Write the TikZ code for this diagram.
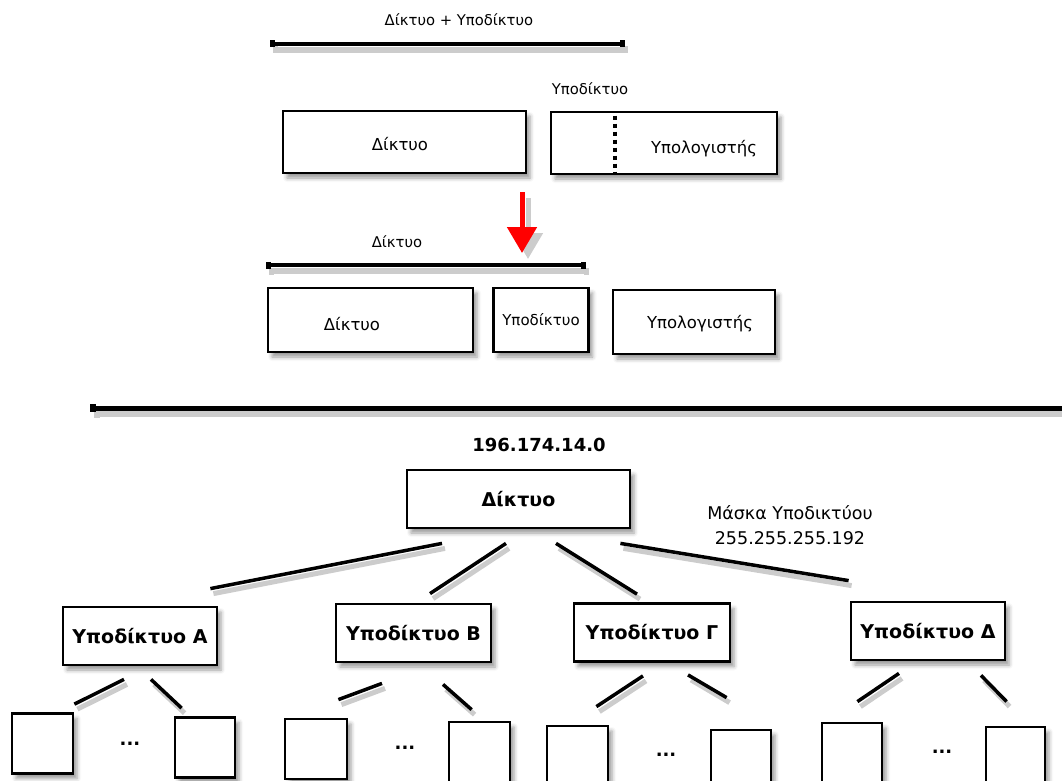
\documentclass[tikz,border=0pt]{standalone}
\usepackage{fontspec}
\setmainfont{DejaVu Sans}
\usetikzlibrary{arrows.meta,shadows.blur}

\begin{document}
\begin{tikzpicture}[
  x=1pt, y=-1pt,
  box/.style={draw, line width=2.8pt, fill=white, inner sep=0pt,
    blur shadow={shadow xshift=4pt, shadow yshift=-5pt, shadow blur radius=4pt, shadow opacity=40}},
  leaf/.style={box, minimum width=61pt, minimum height=60pt},
  subnet/.style={box, minimum width=155pt, minimum height=58pt, font=\bfseries\fontsize{19}{22}\selectfont},
  lbl/.style={inner sep=0pt, font=\fontsize{16.5}{19}\selectfont},
  small/.style={inner sep=0pt, font=\fontsize{14.8}{17}\selectfont},
  dots/.style={inner sep=0pt, font=\bfseries\fontsize{18}{20}\selectfont},
  link/.style={line width=3.5pt, preaction={draw=black!20, line width=5pt, transform canvas={shift={(3pt,-5pt)}}}},
  span/.style={line width=4pt, {Square[length=5pt,width=7pt]}-{Square[length=5pt,width=7pt]},
    preaction={draw=black!20, line width=6pt, transform canvas={shift={(3pt,-6pt)}}}}
]
\useasboundingbox (0,0) rectangle (1062,781);
\clip (0,0) rectangle (1062,781);

% network + subnet split
\node[small] (cap1) at (459,20) {Δίκτυο + Υποδίκτυο};
\draw[span] (270,44) -- (625,44);
\node[small] (capsub) at (590,89) {Υποδίκτυο};
\node[box, lbl, minimum width=243pt, minimum height=62pt] (net1) at (404.5,142) {};
\node[lbl] at (400,144) {Δίκτυο};
\node[box, minimum width=226pt, minimum height=62pt] (host1) at (664,143) {};
\node[lbl] at (704,149) {Υπολογιστής};
\draw[line width=4pt, dash pattern=on 4pt off 4pt] ([xshift=65pt,yshift=-5pt]host1.north west) -- ([xshift=65pt]host1.south west);

% red arrow
\draw[line width=5pt, draw=black!20, -{Triangle[length=26pt,width=29pt]}, transform canvas={shift={(6pt,-6pt)}}] (522,192) -- (522,253);
\draw[line width=5pt, red, -{Triangle[length=26pt,width=29pt]}] (522,192) -- (522,253);

% network / subnet / host
\node[small] (cap2) at (397,242) {Δίκτυο};
\draw[span] (266,265) -- (586,265);
\node[box, minimum width=205pt, minimum height=64pt] (net2) at (370.5,320) {};
\node[lbl] at (352,324) {Δίκτυο};
\node[box, minimum width=95pt, minimum height=64pt, font=\fontsize{15}{17}\selectfont] (sub2) at (541,320) {Υποδίκτυο};
\node[box, minimum width=162pt, minimum height=64pt] (host2) at (694,322) {};
\node[lbl] at (700,324) {Υπολογιστής};

\draw[line width=5pt, {Square[length=6pt,width=8pt]}-,
  preaction={draw=black!20, line width=6pt, transform canvas={shift={(4pt,-6pt)}}}] (90,408) -- (1070,408);

% subnet tree
\node[inner sep=0pt, font=\bfseries\fontsize{18}{20}\selectfont] (ip) at (539,445) {196.174.14.0};
\node[box, minimum width=223pt, minimum height=58pt, font=\bfseries\fontsize{19}{22}\selectfont] (root) at (518.5,499) {Δίκτυο};
\node[inner sep=0pt, align=center, font=\fontsize{17.5}{25}\selectfont] (mask) at (790,525) {Μάσκα Υποδικτύου\\255.255.255.192};

\node[subnet, minimum width=154pt] (subA) at (140,636) {Υποδίκτυο Α};
\node[subnet] (subB) at (413.5,633) {Υποδίκτυο Β};
\node[subnet, minimum width=156pt] (subG) at (652,632.5) {Υποδίκτυο Γ};
\node[subnet, minimum width=154pt] (subD) at (928,631) {Υποδίκτυο Δ};

\draw[link] ([xshift=-76.5pt,yshift=-14pt]root.south) -- ([xshift=-8pt,yshift=17pt]subA.north east);
\draw[link] ([xshift=-12.5pt,yshift=-14pt]root.south) -- ([xshift=16.5pt,yshift=9pt]subB.north);
\draw[link] ([xshift=37.5pt,yshift=-14pt]root.south) -- ([xshift=-15pt,yshift=8pt]subG.north);
\draw[link] ([xshift=-11pt,yshift=-14pt]root.south east) -- ([xshift=-1pt,yshift=20pt]subD.north west);

% hosts of each subnet
\node[leaf] (a1) at (42.5,743.5) {};
\node[leaf, minimum width=60pt] (a2) at (205,747.5) {};
\node[dots] (ad) at (130,744) {...};
\draw[link] ([xshift=-16pt,yshift=-13pt]subA.south) -- ([yshift=8pt]a1.north east);
\draw[link] ([xshift=11pt,yshift=-13pt]subA.south) -- ([xshift=8pt,yshift=8pt]a2.north west);

\node[leaf, minimum width=62pt] (b1) at (316,749) {};
\node[leaf] (b2) at (479.5,752) {};
\node[dots] (bd) at (405,748) {...};
\draw[link] ([xshift=-31.5pt,yshift=-20pt]subB.south) -- ([xshift=-10pt,yshift=18pt]b1.north east);
\draw[link] ([xshift=29.5pt,yshift=-21pt]subB.south) -- ([xshift=24pt,yshift=11pt]b2.north west);

\node[leaf] (g1) at (577.5,756) {};
\node[leaf, minimum width=60pt] (g2) at (741,760) {};
\node[dots] (gd) at (666,755) {...};
\draw[link] ([xshift=-9pt,yshift=-13pt]subG.south) -- ([xshift=-13pt,yshift=18pt]g1.north east);
\draw[link] ([xshift=36pt,yshift=-12pt]subG.south) -- ([xshift=17pt,yshift=31pt]g2.north west);

\node[leaf, minimum width=60pt] (d1) at (852,753) {};
\node[leaf, minimum width=59pt] (d2) at (1015.5,757) {};
\node[dots] (dd) at (942,752) {...};
\draw[link] ([xshift=-29pt,yshift=-12pt]subD.south) -- ([xshift=-26pt,yshift=20pt]d1.north east);
\draw[link] ([xshift=53pt,yshift=-14pt]subD.south) -- ([xshift=22pt,yshift=24pt]d2.north west);
\end{tikzpicture}
\end{document}
